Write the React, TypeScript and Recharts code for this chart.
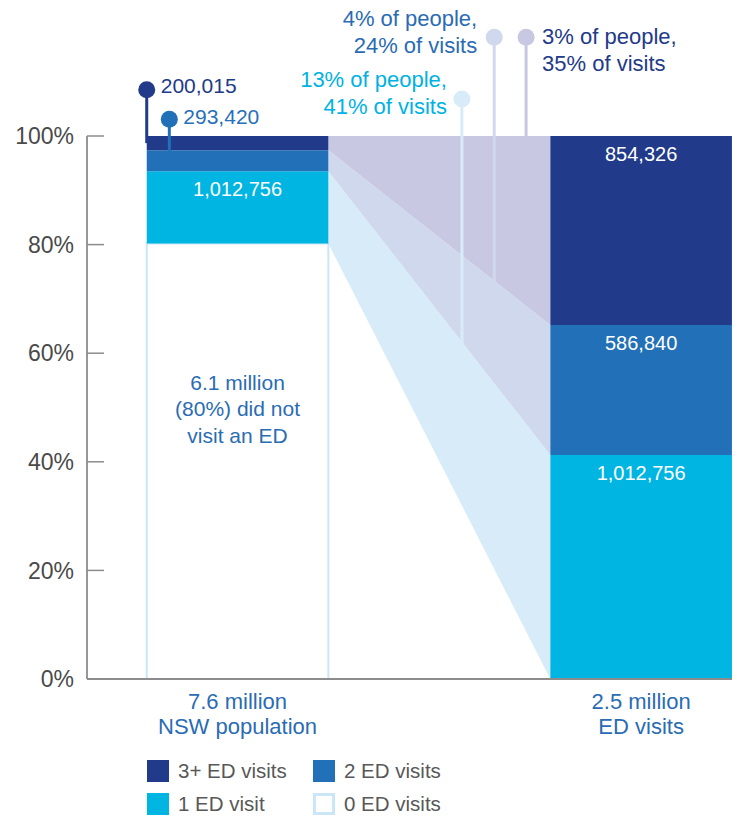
import React from 'react';
import { ComposedChart, Bar, Area, XAxis, YAxis, ReferenceLine, ReferenceDot, LabelList } from 'recharts';

// people in NSW and ED visits, split by how many ED visits a person made
const SEGMENTS = ['0 ED visits', '1 ED visit', '2 ED visits', '3+ ED visits'];
const PEOPLE = [6100000, 1012756, 293420, 200015];
const VISITS = [0, 1012756, 586840, 854326];
const COLUMN_NAMES = ['NSW population', 'ED visits'];
const Y_TICKS = [0, 20, 40, 60, 80, 100];

const BAR_COLORS = ['#ffffff', '#00b5e2', '#2270b8', '#213a8a'];
const FLOW_COLORS = ['none', '#d7ecf8', '#d0d8ee', '#c8c8e3'];
const OUTLINE = '#cbe6f6';
const BLUE_TEXT = '#2a6cb3';
const NAVY_TEXT = '#223a88';
const AXIS = '#8c8c8c';
const FONT = '"Liberation Sans", Arial, Helvetica, sans-serif';

const WIDTH = 732;
const HEIGHT = 753;
const TOP = 136;
const PLOT_H = 543;
const Y_AXIS_W = 79;
const X_DOMAIN: [number, number] = [-0.373, 1.245];
const POS = [0, 1]; // column centres on the x scale
const HALF = 0.225; // half a column, in x units
const PX_PER_UNIT = (WIDTH - Y_AXIS_W) / (X_DOMAIN[1] - X_DOMAIN[0]);
const BAR_SIZE = 2 * HALF * PX_PER_UNIT;

const sum = (v: number[]) => v.reduce((a, b) => a + b, 0);
const shares = (v: number[]) => v.map((x) => (x / sum(v)) * 100);
const bases = (s: number[]) => s.map((_, i) => sum(s.slice(0, i)));
const fmt = (n: number) => n.toLocaleString('en-US');
const pct = (v: number) => `${Math.round(v)}%`;

const peopleShare = shares(PEOPLE);
const visitShare = shares(VISITS);
const peopleBase = bases(peopleShare);
const visitBase = bases(visitShare);

const columns = [
  { counts: PEOPLE, share: peopleShare },
  { counts: VISITS, share: visitShare },
];

const data = columns.map((c, ci) => {
  const row: any = { pos: POS[ci], total: sum(c.counts) };
  c.share.forEach((s, i) => {
    row[`s${i}`] = s > 0 ? s : null;
    row[`l${i}`] = i > 0 && s >= 10 ? fmt(c.counts[i]) : null;
  });
  row.note = ci === 0
    ? [`${(PEOPLE[0] / 1e6).toFixed(1)} million`, `(${pct(peopleShare[0])}) did not`, 'visit an ED'].join('|')
    : null;
  return row;
});

const LEFT_EDGE = POS[0] + HALF;
const RIGHT_EDGE = POS[1] - HALF;

const flowData = (i: number) => [
  { pos: LEFT_EDGE, range: [peopleBase[i], peopleBase[i] + peopleShare[i]] },
  { pos: RIGHT_EDGE, range: [visitBase[i], visitBase[i] + visitShare[i]] },
];

// middle of a band at a given x (on the bar or across the flow)
const bandMid = (i: number, x: number) => {
  const t = Math.max(0, Math.min(1, (x - LEFT_EDGE) / (RIGHT_EDGE - LEFT_EDGE)));
  const lo = peopleBase[i] + t * (visitBase[i] - peopleBase[i]);
  const hi = peopleBase[i] + peopleShare[i] + t * (visitBase[i] + visitShare[i] - peopleBase[i] - peopleShare[i]);
  return (lo + hi) / 2;
};

const CALLOUTS = [
  { seg: 3, x: -0.225, y: 108.5, dx: 14, dy: 3, anchor: 'start', color: BAR_COLORS[3], text: NAVY_TEXT, lines: [fmt(PEOPLE[3])] },
  { seg: 2, x: -0.169, y: 103.1, dx: 14, dy: 5, anchor: 'start', color: BAR_COLORS[2], text: '#2670b8', lines: [fmt(PEOPLE[2])] },
  { seg: 1, x: 0.556, y: 106.8, dx: -15, dy: -12, anchor: 'end', color: FLOW_COLORS[1], text: '#00b2e3',
    lines: [`${pct(peopleShare[1])} of people,`, `${pct(visitShare[1])} of visits`] },
  { seg: 2, x: 0.636, y: 118.2, dx: -17, dy: -11, anchor: 'end', color: FLOW_COLORS[2], text: BLUE_TEXT,
    lines: [`${pct(peopleShare[2])} of people,`, `${pct(visitShare[2])} of visits`] },
  { seg: 3, x: 0.715, y: 118.2, dx: 16, dy: 7, anchor: 'start', color: FLOW_COLORS[3], text: NAVY_TEXT,
    lines: [`${pct(peopleShare[3])} of people,`, `${pct(visitShare[3])} of visits`] },
];

const calloutShape = (c: any) => (props: any) => {
  const { cx, cy } = props;
  return (
    <g>
      <circle cx={cx} cy={cy} r={8.5} fill={c.color} />
      <text x={cx + c.dx} y={cy + c.dy} textAnchor={c.anchor} fill={c.text} fontSize={c.lines.length > 1 ? 22 : 21}>
        {c.lines.map((l: string, i: number) => (
          <tspan key={i} x={cx + c.dx} dy={i === 0 ? 0 : 27}>{l}</tspan>
        ))}
      </text>
    </g>
  );
};

const valueLabel = (props: any) => {
  const vb = props.viewBox || props;
  if (!props.value || !vb.width) return null;
  return (
    <text x={vb.x + vb.width / 2} y={vb.y + 25} textAnchor="middle" fill="#ffffff" fontSize={20}>
      {props.value}
    </text>
  );
};

const noteLabel = (props: any) => {
  const vb = props.viewBox || props;
  if (!props.value || !vb.width) return null;
  const cx = vb.x + vb.width / 2;
  return (
    <text x={cx} y={vb.y + 146} textAnchor="middle" fill={BLUE_TEXT} fontSize={21}>
      {String(props.value).split('|').map((l, i) => (
        <tspan key={i} x={cx} dy={i === 0 ? 0 : 26.5}>{l}</tspan>
      ))}
    </text>
  );
};

const ColumnTick = (props: any) => {
  const { x, y, payload } = props;
  const idx = POS.indexOf(payload.value);
  if (idx < 0) return null;
  const top = `${(sum(columns[idx].counts) / 1e6).toFixed(1)} million`;
  return (
    <text x={x} y={y} textAnchor="middle" fill={BLUE_TEXT} fontSize={22}>
      <tspan x={x} dy={22}>{top}</tspan>
      <tspan x={x} dy={25}>{COLUMN_NAMES[idx]}</tspan>
    </text>
  );
};

const LEGEND_ROWS = [[3, 2], [1, 0]];

export default function App() {
  return (
    <div style={{ position: 'relative', width: WIDTH, height: 816, marginTop: -8, fontFamily: FONT }}>
      <ComposedChart width={WIDTH} height={HEIGHT} data={data} margin={{ top: TOP, right: 0, left: 0, bottom: 0 }}>
        <XAxis
          xAxisId="col"
          type="number"
          dataKey="pos"
          domain={X_DOMAIN}
          allowDataOverflow
          ticks={POS}
          interval={0}
          tick={<ColumnTick />}
          tickLine={false}
          axisLine={{ stroke: AXIS, strokeWidth: 1.8 }}
          height={HEIGHT - TOP - PLOT_H}
        />
        <XAxis xAxisId="flow" type="number" dataKey="pos" domain={X_DOMAIN} allowDataOverflow hide />
        <YAxis
          type="number"
          domain={[0, 100]}
          allowDataOverflow
          ticks={Y_TICKS}
          interval={0}
          tickFormatter={(v) => `${v}%`}
          width={Y_AXIS_W}
          tickSize={-17}
          tickMargin={30}
          tick={{ fill: '#4a4a4a', fontSize: 23 }}
          tickLine={{ stroke: AXIS, strokeWidth: 1.5 }}
          axisLine={{ stroke: AXIS, strokeWidth: 1.8 }}
        />
        {[1, 2, 3].map((i) => (
          <Area
            key={`flow${i}`}
            xAxisId="flow"
            data={flowData(i)}
            dataKey="range"
            type="linear"
            stroke="none"
            fill={FLOW_COLORS[i]}
            fillOpacity={1}
            dot={false}
            activeDot={false}
            isAnimationActive={false}
          />
        ))}
        {SEGMENTS.map((name, i) => (
          <Bar
            key={name}
            name={name}
            xAxisId="col"
            dataKey={`s${i}`}
            stackId="a"
            barSize={BAR_SIZE}
            fill={BAR_COLORS[i]}
            stroke={i === 0 ? OUTLINE : 'none'}
            strokeWidth={i === 0 ? 2 : 0}
            isAnimationActive={false}
          >
            {i === 0 ? (
              <LabelList dataKey="note" content={noteLabel} />
            ) : (
              <LabelList dataKey={`l${i}`} content={valueLabel} />
            )}
          </Bar>
        ))}
        {CALLOUTS.map((c, i) => (
          <ReferenceLine
            key={`cl${i}`}
            xAxisId="col"
            segment={[{ x: c.x, y: c.y }, { x: c.x, y: bandMid(c.seg, c.x) }]}
            stroke={c.color}
            strokeWidth={3}
            ifOverflow="visible"
          />
        ))}
        {CALLOUTS.map((c, i) => (
          <ReferenceDot
            key={`cd${i}`}
            xAxisId="col"
            x={c.x}
            y={c.y}
            r={8.5}
            ifOverflow="visible"
            shape={calloutShape(c)}
          />
        ))}
      </ComposedChart>
      {LEGEND_ROWS.map((row, ri) =>
        row.map((seg, ci) => (
          <div
            key={seg}
            style={{
              position: 'absolute',
              left: ci === 0 ? 139 : 305,
              top: 760 + ri * 33,
              display: 'flex',
              alignItems: 'center',
              gap: 9,
              fontSize: 20.5,
              color: '#585858',
              lineHeight: '22px',
            }}
          >
            <div
              style={{
                width: 22,
                height: 22,
                boxSizing: 'border-box',
                background: BAR_COLORS[seg],
                border: seg === 0 ? `3px solid ${OUTLINE}` : 'none',
              }}
            />
            <span>{SEGMENTS[seg]}</span>
          </div>
        ))
      )}
    </div>
  );
}
